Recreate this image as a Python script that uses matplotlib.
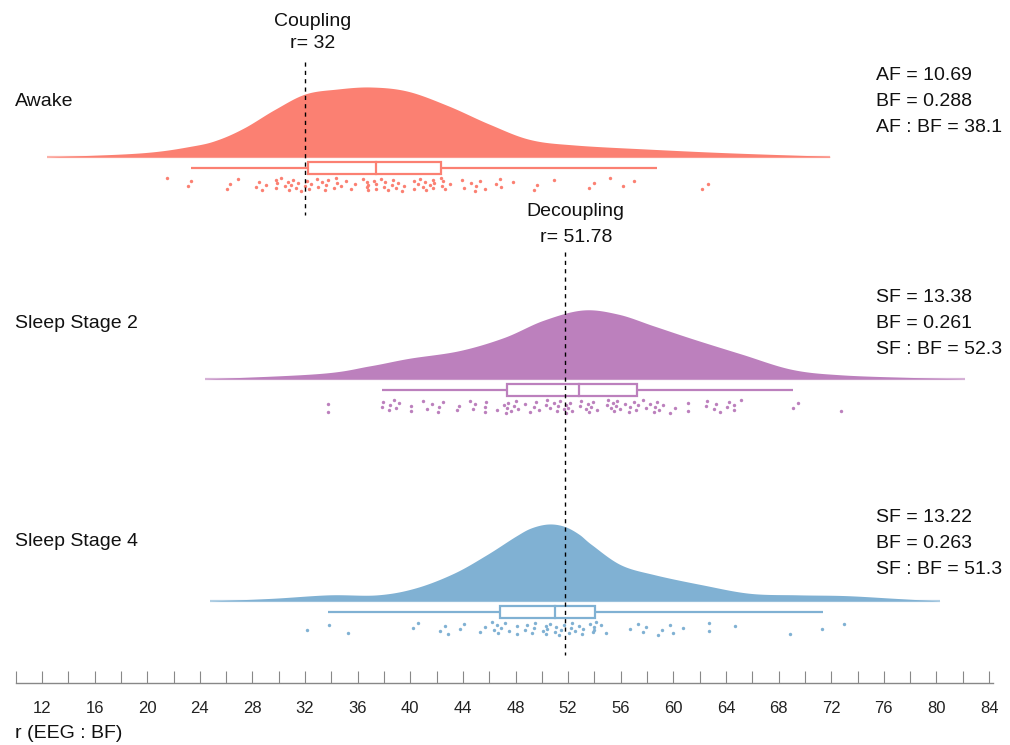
import numpy as np
import matplotlib
matplotlib.use("Agg")
import matplotlib.pyplot as plt
from matplotlib.patches import Rectangle
from matplotlib.transforms import blended_transform_factory

plt.rcParams['font.family'] = ['Liberation Sans', 'DejaVu Sans']

# ---------------- data ----------------
groups = ["Awake", "Sleep Stage 2", "Sleep Stage 4"]
colors = ["#FB8072", "#BC80BD", "#80B1D3"]

annot_awake = ["AF = 10.69", "BF = 0.288", "AF : BF = 38.1"]
annot_ss2 = ["SF = 13.38", "BF = 0.261", "SF : BF = 52.3"]
annot_ss4 = ["SF = 13.22", "BF = 0.263", "SF : BF = 51.3"]

coupling_r = 32
decoupling_r = 51.78

# density curves (x values, relative density)
dens_x_awake = [12.4, 19.6, 23.5, 25.4, 27.4, 29.7, 32.0, 34.4, 37.0, 39.8, 42.9,
                46.0, 49.1, 52.6, 58.4, 64.2, 71.9]
dens_y_awake = [0.0, 0.06, 0.16, 0.25, 0.42, 0.68, 0.90, 0.97, 1.0, 0.94, 0.73,
                0.47, 0.25, 0.17, 0.11, 0.06, 0.01]

dens_x_ss2 = [24.4, 33.1, 36.9, 39.9, 43.7, 47.1, 50.1, 53.1, 55.8, 58.5, 61.5,
              65.2, 69.0, 72.8, 78.5, 82.2]
dens_y_ss2 = [0.0, 0.08, 0.19, 0.30, 0.41, 0.60, 0.85, 1.0, 0.94, 0.77, 0.58,
              0.36, 0.14, 0.06, 0.02, 0.0]

dens_x_ss4 = [24.75, 29.5, 33.8, 37.5, 40.4, 43.3, 45.8, 48.0, 49.2, 50.5, 51.7,
              52.8, 53.8, 56.0, 58.6, 62.2, 65.8, 69.5, 73.1, 76.8, 80.3]
dens_y_ss4 = [0.0, 0.035, 0.08, 0.08, 0.17, 0.36, 0.60, 0.84, 0.95, 1.0, 0.97,
              0.87, 0.73, 0.47, 0.34, 0.21, 0.10, 0.08, 0.07, 0.035, 0.0]

# box stats: whisker low, q1, median, q3, whisker high
box_awake = [23.36, 32.24, 37.43, 42.36, 58.73]
box_ss2 = [37.87, 47.32, 52.86, 57.20, 69.10]
box_ss4 = [33.76, 46.84, 50.97, 54.01, 71.39]

# raw observations
pts_awake = [21.5, 23.1, 23.3, 26.1, 26.3, 26.9, 28.3, 28.5, 28.7, 29.0,
             29.8, 29.8, 29.9, 30.2, 30.5, 30.7, 30.8, 30.9, 31.1, 31.3, 31.5, 31.7,
             32.0, 32.15, 32.3, 32.45, 32.9, 33.0, 33.3, 33.5, 33.6, 33.75, 34.2, 34.4,
             34.35, 34.7, 35.1, 35.5, 35.8, 36.4, 36.7, 36.7, 36.8, 36.75, 37.25, 37.4,
             37.4, 37.8, 38.0, 38.1, 38.3, 38.6, 38.7, 38.9, 39.1, 39.35, 39.5, 40.25,
             40.3, 40.6, 40.75, 41.0, 41.1, 41.2, 41.5, 41.7, 41.7, 41.8, 42.3, 42.4,
             42.5, 42.6, 43.0, 43.95, 44.05, 44.6, 44.9, 45.0, 45.3, 45.7, 46.5, 46.8,
             46.9, 47.8, 49.4, 49.6, 50.9, 53.6, 54.0, 55.2, 56.2, 57.0, 62.2, 62.6]

pts_ss2 = [33.74, 33.74, 37.87, 37.92, 38.36, 38.49, 38.74, 38.9, 39.17, 40.04, 40.04,
           40.94, 41.26, 41.67, 42.08, 42.21, 42.48, 43.52, 43.71, 44.52, 44.79, 44.93,
           45.66, 45.69, 45.74, 46.61, 47.1, 47.24, 47.32, 47.45, 47.64, 47.92, 48.05,
           48.19, 48.73, 49.08, 49.41, 49.55, 49.76, 50.31, 50.36, 50.63, 50.9, 51.17,
           51.23, 51.36, 51.66, 51.85, 51.85, 51.99, 52.13, 52.26, 52.89, 52.94, 53.35,
           53.48, 53.62, 53.75, 53.89, 54.16, 54.98, 55.03, 55.25, 55.38, 55.52, 55.66,
           55.74, 55.93, 56.33, 56.61, 56.74, 57.01, 57.15, 57.29, 57.69, 57.91, 58.24,
           58.51, 58.64, 58.78, 58.92, 59.19, 59.73, 60.14, 61.09, 61.09, 62.45, 62.58,
           63.12, 63.26, 63.53, 64.08, 64.21, 64.62, 64.62, 65.16, 69.1, 69.51, 72.77]

pts_ss4 = [32.13, 33.81, 35.25, 40.23, 40.59, 42.28, 42.67, 42.9, 43.8, 44.11, 45.29,
           45.71, 46.19, 46.36, 46.56, 46.7, 46.89, 47.17, 47.48, 48.1, 48.1, 48.72,
           48.89, 49.23, 49.37, 49.45, 50.07, 50.3, 50.35, 50.41, 50.63, 50.97, 51.06,
           51.34, 51.48, 51.7, 52.04, 52.18, 52.32, 52.52, 52.83, 53.03, 53.11, 53.67,
           53.87, 53.95, 54.15, 53.95, 54.52, 54.91, 56.68, 57.33, 57.67, 57.89, 58.85,
           59.13, 59.78, 59.97, 60.76, 62.73, 62.73, 64.7, 68.86, 71.31, 73.0]

xtick_labels = list(range(12, 85, 4))
x_label = "r (EEG : BF)"

# ---------------- layout ----------------
W, H = 1010, 745
fig = plt.figure(figsize=(W / 100, H / 100), dpi=100)
ax_left_px, ax_right_px = 15.7, 993.0
ax_bottom_px = 683.0
ax = fig.add_axes([ax_left_px / W, (H - ax_bottom_px) / H,
                   (ax_right_px - ax_left_px) / W, ax_bottom_px / H])
ax.set_xlim(10, 84.3)
PX = 222.0  # pixels per group unit
ax.set_ylim((601 - 683) / PX, 601 / PX)

bases = [2, 1, 0]
peaks = [70 / PX, 69 / PX, 77 / PX]
box_off = -11 / PX
box_half = 6.2 / PX
pt_top, pt_bot = -21 / PX, -34 / PX


def catmull(xs, ys, n=24):
    xs = np.asarray(xs, float)
    ys = np.asarray(ys, float)
    P = np.column_stack([xs, ys])
    P = np.vstack([P[0] * 2 - P[1], P, P[-1] * 2 - P[-2]])
    out = []
    t = np.linspace(0, 1, n, endpoint=False)[:, None]
    for i in range(1, len(P) - 2):
        p0, p1, p2, p3 = P[i - 1], P[i], P[i + 1], P[i + 2]
        seg = 0.5 * ((2 * p1) + (-p0 + p2) * t + (2 * p0 - 5 * p1 + 4 * p2 - p3) * t ** 2
                     + (-p0 + 3 * p1 - 3 * p2 + p3) * t ** 3)
        out.append(seg)
    out.append(P[-2][None, :])
    out = np.vstack(out)
    return out[:, 0], np.clip(out[:, 1], 0, None)


dens = [(dens_x_awake, dens_y_awake), (dens_x_ss2, dens_y_ss2), (dens_x_ss4, dens_y_ss4)]
boxes = [box_awake, box_ss2, box_ss4]
pts = [pts_awake, pts_ss2, pts_ss4]

for g in range(3):
    c = colors[g]
    b = bases[g]
    dx, dy = catmull(*dens[g])
    ax.fill_between(dx, b, b + dy * peaks[g], color=c, lw=0, zorder=2)
    ax.plot([dx[0], dx[-1]], [b, b], color=c, lw=1.6, alpha=0.6, zorder=2,
            solid_capstyle='butt')
    wl, q1, med, q3, wh = boxes[g]
    yc = b + box_off
    ax.plot([wl, wh], [yc, yc], color=c, lw=1.6, zorder=3, solid_capstyle='butt')
    ax.add_patch(Rectangle((q1, yc - box_half), q3 - q1, 2 * box_half,
                           facecolor='white', edgecolor=c, lw=1.6, zorder=4))
    ax.plot([med, med], [yc - box_half, yc + box_half], color=c, lw=1.6, zorder=5)
    n = len(pts[g])
    frac = (np.arange(n) * 0.6180339887 + 0.3 * g) % 1.0
    yj = b + pt_top + (pt_bot - pt_top) * frac
    ax.scatter(pts[g], yj, s=6, color=c, lw=0, zorder=5)

# reference lines
ax.plot([coupling_r, coupling_r], [(601 - 62) / PX, (601 - 215) / PX], color='black',
        lw=1.0, ls=(0, (3, 3)), zorder=6)
ax.plot([decoupling_r, decoupling_r], [(601 - 252) / PX, (601 - 655) / PX], color='black',
        lw=1.0, ls=(0, (3, 3)), zorder=6)

trans = blended_transform_factory(ax.transData, fig.transFigure)
FS = 14
ax.text(coupling_r + 0.6, 1 - 21 / H, "Coupling", transform=trans, ha='center', va='center',
        fontsize=FS, color='#111111')
ax.text(coupling_r + 0.6, 1 - 44 / H, "r= 32", transform=trans, ha='center', va='center',
        fontsize=FS, color='#111111')
ax.text(decoupling_r + 0.8, 1 - 211 / H, "Decoupling", transform=trans, ha='center',
        va='center', fontsize=FS, color='#111111')
ax.text(decoupling_r + 0.8, 1 - 237 / H, "r= 51.78", transform=trans, ha='center',
        va='center', fontsize=FS, color='#111111')

# group labels
label_y = [102, 323, 541]
for g in range(3):
    fig.text(15 / W, 1 - label_y[g] / H, groups[g], ha='left', va='center', fontsize=FS,
             color='#111111')

# right annotations
annots = [annot_awake, annot_ss2, annot_ss4]
annot_y = [75, 298, 517]
for g in range(3):
    for k, line in enumerate(annots[g]):
        fig.text(876 / W, 1 - (annot_y[g] + 26 * k) / H, line, ha='left', va='center',
                 fontsize=FS, color='#111111')

# axis styling
for s in ['top', 'right', 'left']:
    ax.spines[s].set_visible(False)
ax.spines['bottom'].set_color('#888888')
ax.spines['bottom'].set_linewidth(1.0)
ax.set_yticks([])
ax.set_xticks(np.arange(10, 85, 2))
ax.set_xticklabels([str(int(v)) if int(v) in xtick_labels else "" for v in np.arange(10, 85, 2)])
ax.tick_params(axis='x', direction='in', length=9, width=0.8, color='#888888',
               labelsize=12, labelcolor='#222222', pad=13)

fig.text(15 / W, 1 - 733 / H, x_label, ha='left', va='center', fontsize=FS, color='#111111')

fig.savefig("out.png", dpi=100)
